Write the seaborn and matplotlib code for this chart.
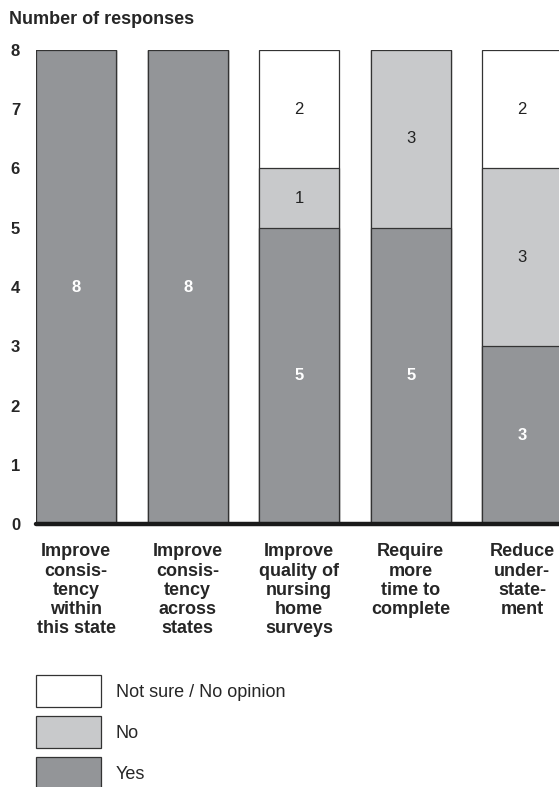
import matplotlib
matplotlib.use("Agg")
import matplotlib.pyplot as plt
import seaborn as sns
import numpy as np
from matplotlib.patches import Patch

categories = ["Improve\nconsis-\ntency\nwithin\nthis state",
              "Improve\nconsis-\ntency\nacross\nstates",
              "Improve\nquality of\nnursing\nhome\nsurveys",
              "Require\nmore\ntime to\ncomplete",
              "Reduce\nunder-\nstate-\nment"]
yes = [8, 8, 5, 5, 3]
no = [0, 0, 1, 3, 3]
not_sure = [0, 0, 2, 0, 2]
series_names = ["Yes", "No", "Not sure / No opinion"]
yticks = [0, 1, 2, 3, 4, 5, 6, 7, 8]

c_yes = "#939598"
c_no = "#c8c9cb"
c_ns = "#ffffff"
edge = "#333333"

sns.set_style("white")
plt.rcParams["font.family"] = ["Liberation Sans", "DejaVu Sans"]

fig = plt.figure(figsize=(5.59, 7.87), dpi=100)
ax = fig.add_axes([36/559, 1 - 524/787, 1 - 36/559, (524 - 50)/787])

yes_a = np.array(yes)
no_a = np.array(no)
ns_a = np.array(not_sure)
total = yes_a + no_a + ns_a
yes_no = yes_a + no_a

for vals, col in [(total, c_ns), (yes_no, c_no), (yes_a, c_yes)]:
    sns.barplot(x=categories, y=vals, color=col, saturation=1, width=0.72,
                edgecolor=edge, linewidth=0.9, errorbar=None, ax=ax)

# labels
for i in range(len(categories)):
    if yes[i] > 0:
        ax.text(i, yes[i] / 2, str(yes[i]), ha="center", va="center",
                color="white", fontsize=12, fontweight="bold")
    if no[i] > 0:
        ax.text(i, yes[i] + no[i] / 2, str(no[i]), ha="center", va="center",
                color="#222222", fontsize=12)
    if not_sure[i] > 0:
        ax.text(i, yes[i] + no[i] + not_sure[i] / 2, str(not_sure[i]),
                ha="center", va="center", color="#222222", fontsize=12)

ax.set_xlim(-0.36, 4.33)
ax.set_ylim(0, 8)
ax.set_yticks(yticks)
ax.set_yticklabels([str(t) for t in yticks], fontweight="bold", fontsize=12)
ax.tick_params(axis="y", length=0, pad=11.5)
ax.tick_params(axis="x", length=0, pad=14)
for lab in ax.get_xticklabels():
    lab.set_fontweight("bold")
    lab.set_fontsize(13)
    lab.set_linespacing(1.17)
    lab.set_verticalalignment("top")
for s in ax.spines.values():
    s.set_visible(False)
ax.axhline(0, color="#1a1a1a", linewidth=3.2, clip_on=False, zorder=5)
ax.set_xlabel("")
ax.set_ylabel("")

fig.text(9/559, 1 - 24/787, "Number of responses", fontsize=13,
         fontweight="bold", ha="left", va="baseline")

handles = [Patch(facecolor=c_ns, edgecolor=edge, linewidth=0.9),
           Patch(facecolor=c_no, edgecolor=edge, linewidth=0.9),
           Patch(facecolor=c_yes, edgecolor=edge, linewidth=0.9)]
labels = [series_names[2], series_names[1], series_names[0]]
fig.legend(handles, labels, loc="upper left",
           bbox_to_anchor=(36/559, 1 - 675/787), frameon=False,
           fontsize=13, handlelength=3.6, handleheight=2.35,
           labelspacing=0.5, handletextpad=0.83, borderpad=0,
           borderaxespad=0)

fig.savefig("out.png", dpi=100)
